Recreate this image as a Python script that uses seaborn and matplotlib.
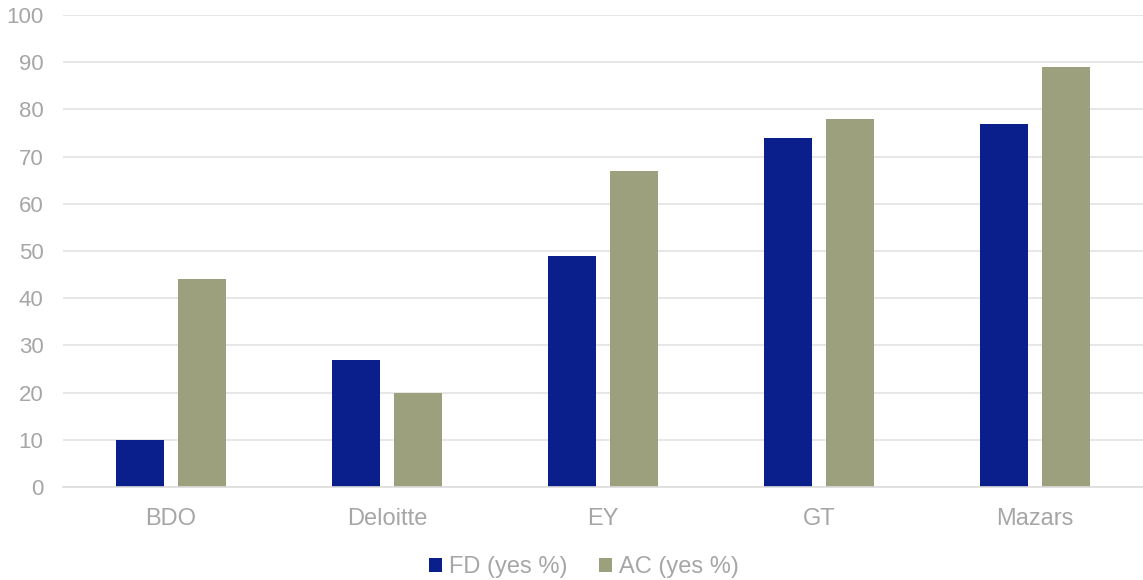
import matplotlib
matplotlib.use("Agg")
import matplotlib.pyplot as plt
import seaborn as sns
import pandas as pd

categories = ["BDO", "Deloitte", "EY", "GT", "Mazars"]
fd_values = [10, 27, 49, 74, 77]
ac_values = [44, 20, 67, 78, 89]
series_names = ["FD (yes %)", "AC (yes %)"]
colors = ["#0b1f8c", "#9da07c"]

df = pd.DataFrame({
    "firm": categories * 2,
    "value": fd_values + ac_values,
    "series": [series_names[0]] * len(categories) + [series_names[1]] * len(categories),
})

sns.set_theme(style="white")
plt.rcParams['font.family'] = ['Liberation Sans', 'DejaVu Sans']

fig = plt.figure(figsize=(11.43, 5.8), dpi=100)
ax = fig.add_axes([63/1143, 93/580, 1 - 63/1143, (487-15)/580])

sns.barplot(data=df, x="firm", y="value", hue="series", palette=colors,
            width=0.574, gap=0.227, ax=ax, saturation=1, legend=True, linewidth=0)

ax.set_ylim(0, 100)
ax.set_yticks(range(0, 101, 10))
ax.set_xlim(-0.5, 4.5)
ax.grid(axis="y", color="#e3e3e3", linewidth=1.2)
ax.set_axisbelow(True)
for s in ["top", "right", "left"]:
    ax.spines[s].set_visible(False)
ax.spines["bottom"].set_color("#dcdcdc")
ax.spines["bottom"].set_linewidth(1.2)
ax.tick_params(axis="y", length=0, pad=14, labelsize=16, labelcolor="#a6a6a6")
ax.tick_params(axis="x", length=0, pad=15, labelsize=17, labelcolor="#a6a6a6")
ax.set_xlabel("")
ax.set_ylabel("")

handles, labels = ax.get_legend_handles_labels()
ax.legend_.remove()
fig.legend(handles, labels, loc="center", bbox_to_anchor=(584/1143, 1 - 567/580),
           ncol=2, frameon=False, fontsize=17, labelcolor="#a6a6a6",
           handlelength=0.55, handleheight=0.55, handletextpad=0.3, columnspacing=1.3)

fig.savefig("out.png", dpi=100)
